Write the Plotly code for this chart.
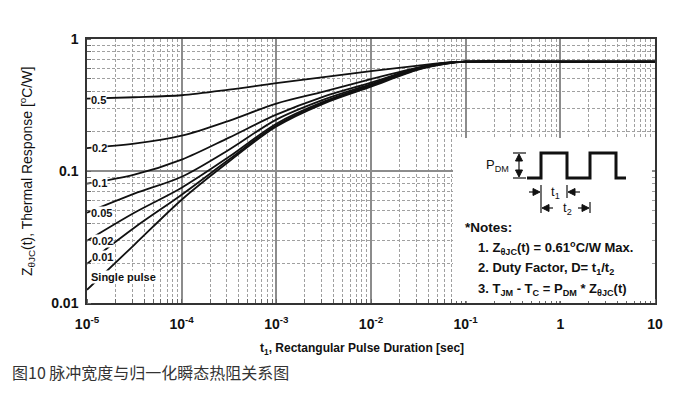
import plotly.graph_objects as go

# ---- data ----
t_sec = [1e-5, 3.16e-5, 1e-4, 3.16e-4, 1e-3, 3.16e-3, 1e-2, 3.16e-2, 6.3e-2, 1e-1, 1, 10]
z_d050 = [0.353, 0.362, 0.375, 0.413, 0.463, 0.514, 0.570, 0.628, 0.661, 0.673, 0.673, 0.673]
z_d020 = [0.149, 0.161, 0.185, 0.240, 0.324, 0.399, 0.496, 0.606, 0.661, 0.673, 0.673, 0.673]
z_d010 = [0.0801, 0.0938, 0.122, 0.179, 0.267, 0.366, 0.467, 0.606, 0.659, 0.673, 0.673, 0.673]
z_d005 = [0.0483, 0.0673, 0.0905, 0.145, 0.245, 0.347, 0.455, 0.601, 0.657, 0.673, 0.673, 0.673]
z_d002 = [0.0296, 0.0483, 0.0747, 0.128, 0.228, 0.335, 0.447, 0.596, 0.655, 0.673, 0.673, 0.673]
z_d001 = [0.0198, 0.0372, 0.0661, 0.122, 0.222, 0.329, 0.443, 0.590, 0.652, 0.673, 0.673, 0.673]
z_single = [0.0126, 0.0276, 0.0606, 0.118, 0.217, 0.324, 0.435, 0.585, 0.650, 0.673, 0.673, 0.673]

series = [("0.5", z_d050), ("0.2", z_d020), ("0.1", z_d010), ("0.05", z_d005),
          ("0.02", z_d002), ("0.01", z_d001), ("Single pulse", z_single)]

x_tickvals = [1e-5, 1e-4, 1e-3, 1e-2, 1e-1, 1, 10]
x_ticktext = ["10<sup>-5</sup>", "10<sup>-4</sup>", "10<sup>-3</sup>", "10<sup>-2</sup>",
              "10<sup>-1</sup>", "1", "10"]
y_tickvals = [0.01, 0.1, 1]
y_ticktext = ["0.01", "0.1", "1"]

FONT = "Liberation Sans, Arial, sans-serif"
# page body has an 8px margin, so the figure is 8px smaller and shifted
W, H = 689, 386
L, R, T, B = 79, 42, 31, 91
PW, PH = W - L - R, H - T - B
PLOT_X0, PLOT_Y1 = 87, 303  # plot area left / bottom in screen px


def px(x):
    return (x - PLOT_X0) / PW


def py(y):
    return (PLOT_Y1 - y) / PH


fig = go.Figure()
for name, z in series:
    fig.add_trace(go.Scatter(x=t_sec, y=z, mode="lines", name=name,
                             line=dict(color="#111111", width=1.8, shape="spline", smoothing=0.9),
                             showlegend=False, hoverinfo="skip"))

axis_common = dict(
    type="log", showline=True, mirror=True, linecolor="#333333", linewidth=1.5,
    showgrid=True, gridcolor="#8c8c8c", gridwidth=1.5, zeroline=False,
    ticks="", tickfont=dict(family=FONT, size=14, color="#111111", weight="bold"),
    minor=dict(dtick="D1", showgrid=True, gridcolor="#a0a0a0", griddash="3px,2px",
               gridwidth=1, ticks="inside", ticklen=4, tickcolor="#666666"),
)

fig.update_xaxes(range=[-5, 1], tickmode="array", tickvals=x_tickvals, ticktext=x_ticktext,
                 ticklabelstandoff=7, **axis_common)
fig.update_yaxes(range=[-2, 0], tickmode="array", tickvals=y_tickvals, ticktext=y_ticktext,
                 ticklabelstandoff=4, **axis_common)

shapes = []
# white notes box covering grid
shapes.append(dict(type="rect", xref="paper", yref="paper", x0=px(453), x1=px(652),
                   y0=py(138), y1=py(301), fillcolor="white", line=dict(width=0), layer="above"))


def path(points):
    s = "M {} {}".format(px(points[0][0]), py(points[0][1]))
    for (a, b) in points[1:]:
        s += " L {} {}".format(px(a), py(b))
    return s


def line(points, width=1.2):
    shapes.append(dict(type="path", xref="paper", yref="paper", path=path(points),
                       line=dict(color="#111111", width=width), layer="above"))


def tri(points):
    shapes.append(dict(type="path", xref="paper", yref="paper", path=path(points) + " Z",
                       fillcolor="#111111", line=dict(color="#111111", width=1), layer="above"))


# pulse waveform
line([(527, 178), (541, 178), (541, 153), (567, 153), (567, 178), (590, 178), (590, 153),
      (616, 153), (616, 178), (626, 178)], width=3)
# PDM double arrow
line([(513, 153), (526, 153)])
line([(513, 178), (526, 178)])
line([(519, 155), (519, 176)])
tri([(519, 154), (515.5, 161), (522.5, 161)])
tri([(519, 177), (515.5, 170), (522.5, 170)])
# t1 / t2 markers
line([(541, 185), (541, 213)])
line([(567, 185), (567, 198)])
line([(590, 202), (590, 213)])
line([(529, 192), (534, 192)])
tri([(540, 192), (533, 188.5), (533, 195.5)])
line([(575, 192), (580, 192)])
tri([(568, 192), (575, 188.5), (575, 195.5)])
line([(549, 208), (553, 208)])
tri([(542, 208), (549, 204.5), (549, 211.5)])
line([(578, 208), (582, 208)])
tri([(589, 208), (582, 204.5), (582, 211.5)])

annotations = []


def text(x, y, s, size=12, bold=False, xanchor="center", bg=None, angle=0, family=FONT,
         color="#111111"):
    a = dict(x=px(x), y=py(y), xref="paper", yref="paper", text=s, showarrow=False,
             xanchor=xanchor, yanchor="middle", textangle=angle,
             font=dict(family=family, size=size, color=color, weight="bold" if bold else "normal"))
    if bg:
        a["bgcolor"] = bg
        a["borderpad"] = 0
    annotations.append(a)


# curve labels
label_pos = {"0.5": (98, 100), "0.2": (99, 148), "0.1": (99, 183), "0.05": (101, 213),
             "0.02": (102, 241), "0.01": (102.5, 257), "Single pulse": (123, 277)}
for name, _ in series:
    lx, ly = label_pos[name]
    text(lx, ly, name, size=11, bold=True, bg="white")

# pulse diagram labels
text(511, 165, "P<sub>DM</sub>", size=13, xanchor="right")
text(555, 192, "t<sub>1</sub>", size=13)
text(567, 208, "t<sub>2</sub>", size=13)

# notes
text(463, 228, "*Notes:", size=13.5, bold=True, xanchor="left")
text(476, 248, "1. Z<sub>θJC</sub>(t) = 0.61<sup>o</sup>C/W Max.", size=13, bold=True, xanchor="left")
text(476, 268, "2. Duty Factor, D= t<sub>1</sub>/t<sub>2</sub>", size=13, bold=True, xanchor="left")
text(476, 289, "3. T<sub>JM</sub> - T<sub>C</sub> = P<sub>DM</sub> * Z<sub>θJC</sub>(t)", size=13,
     bold=True, xanchor="left")

# axis titles
text(362, 349, "t<sub>1</sub>, Rectangular Pulse Duration [sec]", size=12, bold=True)
text(27, 172, "Z<sub>θJC</sub>(t), Thermal Response [<sup>o</sup>C/W]", size=14, angle=-90)

# caption
text(10, 372, "图10 脉冲宽度与归一化瞬态热阻关系图", size=16, xanchor="left",
     family="Noto Sans CJK SC", color="#333333")

fig.update_layout(width=W, height=H, margin=dict(l=L, r=R, t=T, b=B),
                  paper_bgcolor="white", plot_bgcolor="white",
                  shapes=shapes, annotations=annotations, showlegend=False)

fig.write_html("out.html")
